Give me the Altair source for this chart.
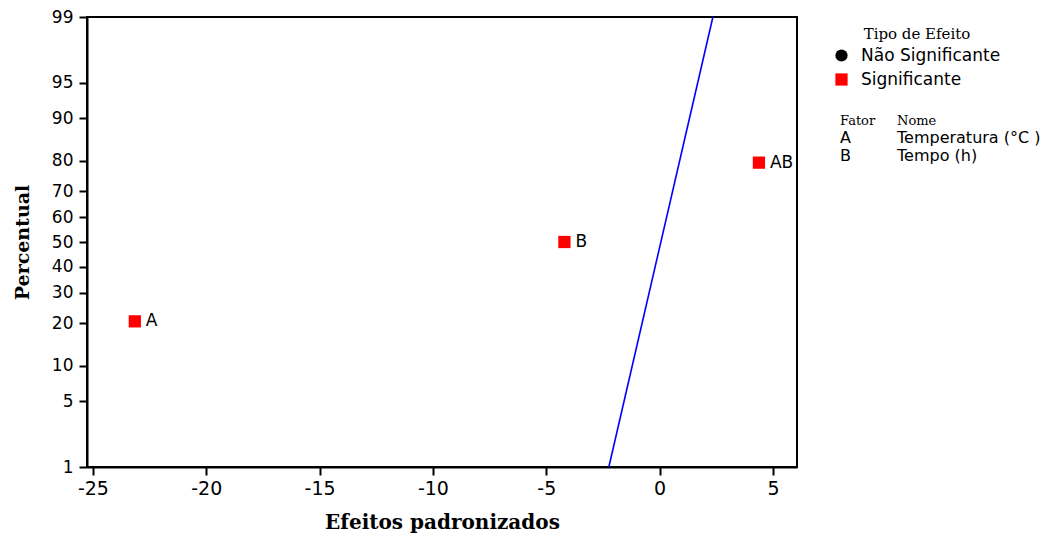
import altair as alt
import pandas as pd
from statistics import NormalDist

# ---- data ----
factors = ["A", "B", "AB"]
effects = [-23.15, -4.2, 4.38]
percents = [20.6, 50.0, 79.4]
effect_type = ["Significante", "Significante", "Significante"]

line_x = [-2.24, 2.35]
line_pct = [1, 99]

y_ticks = [1, 5, 10, 20, 30, 40, 50, 60, 70, 80, 90, 95, 99]
x_ticks = [-25, -20, -15, -10, -5, 0, 5]

legend_types = ["Não Significante", "Significante"]
legend_colors = ["black", "red"]
legend_shapes = ["circle", "square"]

fator_codes = ["A", "B"]
fator_names = ["Temperatura (°C )", "Tempo (h)"]

# ---- tables ----
df_pts = pd.DataFrame({"fator": factors, "efeito": effects, "pct": percents, "tipo": effect_type})
df_line = pd.DataFrame({"efeito": line_x, "pct": line_pct})

nd = NormalDist()
y_tick_z = [nd.inv_cdf(p / 100) for p in y_ticks]
zlo, zhi = nd.inv_cdf(0.01), nd.inv_cdf(0.99)

xscale = alt.Scale(domain=[-25.26, 6.06], nice=False, zero=False)
yscale = alt.Scale(domain=[zlo, zhi], nice=False, zero=False)

xaxis = alt.Axis(values=x_ticks, grid=False, tickSize=8, tickColor="black", domainColor="black",
                 domainWidth=2, tickWidth=2, labelFont="DejaVu Sans", labelFontSize=19, labelColor="black",
                 labelPadding=4, labelExpr="'' + datum.value",
                 titleFont="DejaVu Serif", titleFontWeight="bold", titleFontSize=20,
                 titleColor="black", titlePadding=14)
yaxis = alt.Axis(values=y_tick_z, grid=False, tickSize=8, tickColor="black", domainColor="black",
                 domainWidth=2, tickWidth=2, labelFont="DejaVu Sans", labelFontSize=17, labelColor="black",
                 labelPadding=6, labelExpr="format(cumulativeNormal(datum.value)*100, '.0f')",
                 titleFont="DejaVu Serif", titleFontWeight="bold", titleFontSize=19,
                 titleColor="black", titlePadding=19)

X = alt.X("efeito:Q", scale=xscale, axis=xaxis, title="Efeitos padronizados")
Y = alt.Y("z:Q", scale=yscale, axis=yaxis, title="Percentual")

legend = alt.Legend(title="Tipo de Efeito", orient="none", legendX=746, legendY=10,
                    titleFont="DejaVu Serif", titleFontWeight="normal", titleFontSize=15,
                    titleColor="black", titleAnchor="middle", titlePadding=5,
                    labelFont="DejaVu Sans", labelFontSize=17, labelColor="black",
                    symbolSize=150, rowPadding=6, padding=0, labelOffset=11)

line = alt.Chart(df_line).transform_calculate(
    z="quantileNormal(datum.pct/100)"
).mark_line(color="blue", strokeWidth=1.6).encode(x=X, y=Y)

pts = alt.Chart(df_pts).transform_calculate(
    z="quantileNormal(datum.pct/100)"
).mark_point(filled=True, opacity=1, size=150).encode(
    x=X, y=Y,
    color=alt.Color("tipo:N", scale=alt.Scale(domain=legend_types, range=legend_colors), legend=legend),
    shape=alt.Shape("tipo:N", scale=alt.Scale(domain=legend_types, range=legend_shapes), legend=legend),
)

labels = alt.Chart(df_pts).transform_calculate(
    z="quantileNormal(datum.pct/100)"
).mark_text(align="left", baseline="middle", dx=11, font="DejaVu Sans", fontSize=17, color="black").encode(
    x=X, y=Y, text="fator:N"
)

# factor table (legend-like text)
table_layers = []
header_y = 104
table_layers.append(alt.Chart(pd.DataFrame({"t": ["Fator"]})).mark_text(
    align="left", baseline="middle", font="DejaVu Serif", fontSize=13, color="black"
).encode(x=alt.value(753), y=alt.value(header_y), text="t:N"))
table_layers.append(alt.Chart(pd.DataFrame({"t": ["Nome"]})).mark_text(
    align="left", baseline="middle", font="DejaVu Serif", fontSize=13, color="black"
).encode(x=alt.value(810), y=alt.value(header_y), text="t:N"))
for i, (c, n) in enumerate(zip(fator_codes, fator_names)):
    yy = 121 + i * 18
    table_layers.append(alt.Chart(pd.DataFrame({"t": [c]})).mark_text(
        align="left", baseline="middle", font="DejaVu Sans", fontSize=16, color="black"
    ).encode(x=alt.value(753), y=alt.value(yy), text="t:N"))
    table_layers.append(alt.Chart(pd.DataFrame({"t": [n]})).mark_text(
        align="left", baseline="middle", font="DejaVu Sans", fontSize=16, color="black"
    ).encode(x=alt.value(810), y=alt.value(yy), text="t:N"))

chart = alt.layer(line, pts, labels, *table_layers).properties(
    width=710, height=450,
    autosize=alt.AutoSizeParams(type="none"),
    padding={"left": 87, "top": 17, "right": 249, "bottom": 74},
    background="white",
).configure_view(stroke="black", strokeWidth=2)

chart.save("out.html", embed_options={"renderer": "svg", "actions": False})
